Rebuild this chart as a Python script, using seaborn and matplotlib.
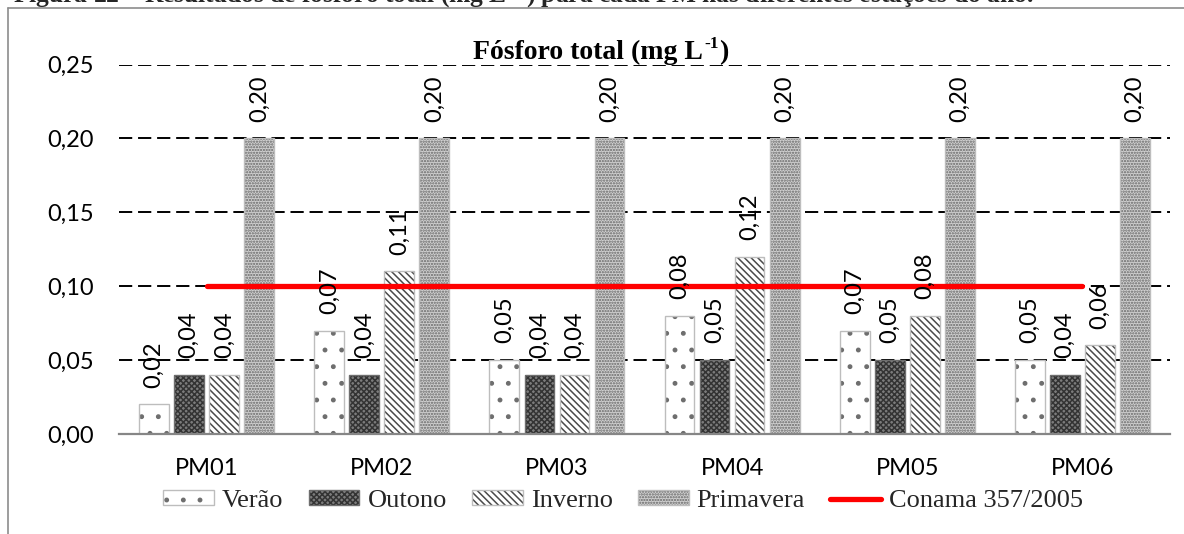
import numpy as np
import pandas as pd
import matplotlib
matplotlib.use("Agg")
import matplotlib.pyplot as plt
import seaborn as sns
from matplotlib.lines import Line2D
from matplotlib.patches import Rectangle, Patch
from matplotlib.legend_handler import HandlerTuple

# ---- data -------------------------------------------------------------
points = ["PM01", "PM02", "PM03", "PM04", "PM05", "PM06"]
seasons = ["Verão", "Outono", "Inverno", "Primavera"]
verao = [0.02, 0.07, 0.05, 0.08, 0.07, 0.05]
outono = [0.04, 0.04, 0.04, 0.05, 0.05, 0.04]
inverno = [0.04, 0.11, 0.04, 0.12, 0.08, 0.06]
primavera = [0.20, 0.20, 0.20, 0.20, 0.20, 0.20]
conama = [0.10, 0.10, 0.10, 0.10, 0.10, 0.10]
conama_label = "Conama 357/2005"
yticks = [0.00, 0.05, 0.10, 0.15, 0.20, 0.25]
ytick_labels = ["0,00", "0,05", "0,10", "0,15", "0,20", "0,25"]
title_main = "Fósforo total (mg L"
title_sup = "-1"
title_end = ")"
caption = r"Figura 22 – Resultados de fósforo total (mg L$^{\mathbf{-1}}$) para cada PM nas diferentes estações do ano."

series = {"Verão": verao, "Outono": outono, "Inverno": inverno, "Primavera": primavera}
df = pd.DataFrame(
    [(p, s, v) for s in seasons for p, v in zip(points, series[s])],
    columns=["ponto", "estacao", "valor"],
)

# ---- fill styles per season ------------------------------------------
styles = {
    "Verão": dict(face="#ffffff", hatch=".", hcol="#6e6e6e", edge="#bdbdbd"),
    "Outono": dict(face="#7c7c7c", hatch="xxxxxx", hcol="#333333", edge="#6e6e6e"),
    "Inverno": dict(face="#ffffff", hatch="\\\\\\\\\\", hcol="#4a4a4a", edge="#bdbdbd"),
    "Primavera": dict(face="#d0d0d0", hatch="......", hcol="#666666", edge="#bdbdbd"),
}

sns.set_theme(style="white")
plt.rcParams["font.family"] = ["Lato", "DejaVu Sans"]
plt.rcParams["mathtext.fontset"] = "custom"
plt.rcParams["mathtext.rm"] = "Liberation Serif"
plt.rcParams["mathtext.bf"] = "Liberation Serif:bold"
plt.rcParams["hatch.linewidth"] = 1.1

W, H = 1184, 534
fig = plt.figure(figsize=(W / 100, H / 100), dpi=100)
ax = fig.add_axes([119 / W, 1 - 434 / H, (1170 - 119) / W, (434 - 64.5) / H])

sns.barplot(
    data=df, x="ponto", y="valor", hue="estacao", hue_order=seasons,
    order=points, width=0.8, gap=0.15, errorbar=None, legend=False,
    palette=["#ffffff"] * 4, ax=ax, zorder=3,
)

for cont, season in zip(ax.containers, seasons):
    st = styles[season]
    for bar in cont:
        bar.set_facecolor(st["face"])
        bar.set_edgecolor(st["hcol"])
        bar.set_hatch(st["hatch"])
        bar.set_linewidth(0)
        ax.add_patch(Rectangle(bar.get_xy(), bar.get_width(), bar.get_height(),
                               fill=False, edgecolor=st["edge"], linewidth=1.0,
                               zorder=3.5))
    labels = [f"{v:.2f}".replace(".", ",") for v in series[season]]
    ax.bar_label(cont, labels=labels, rotation=90, padding=12,
                 fontsize=17, color="#000000", zorder=5)

# reference limit line
sns.lineplot(x=points, y=conama, color="#ff0000", linewidth=3.8, ax=ax,
             sort=False, zorder=4, solid_capstyle="round")

# ---- axes cosmetics --------------------------------------------------
ax.set_ylim(0, 0.25)
ax.set_xlim(-0.5, len(points) - 0.5)
ax.set_yticks(yticks)
ax.set_yticklabels(ytick_labels)
ax.tick_params(axis="y", length=0, pad=18, labelsize=17, labelcolor="#000000")
ax.tick_params(axis="x", length=0, pad=17, labelsize=17, labelcolor="#000000")
ax.set_xlabel("")
ax.set_ylabel("")
ax.yaxis.grid(True, color="#000000", linewidth=1.4, linestyle=(0, (6.8, 3.0)), zorder=1)
ax.xaxis.grid(False)
ax.set_axisbelow(True)
for side in ["left", "right", "top"]:
    ax.spines[side].set_visible(False)
ax.spines["bottom"].set_color("#868686")
ax.spines["bottom"].set_linewidth(1.6)
ax.spines["bottom"].set_zorder(6)

# ---- chart title with superscript unit --------------------------------
tprops = dict(family="Liberation Serif", fontweight="bold", color="#000000",
              va="baseline", ha="left")
base_y = 59  # baseline, pixels from top
t1 = fig.text(0, 1 - base_y / H, title_main, fontsize=20, **tprops)
t2 = fig.text(0, 1 - (base_y - 11) / H, title_sup, fontsize=12.5, **tprops)
t3 = fig.text(0, 1 - base_y / H, title_end, fontsize=20, **tprops)
fig.canvas.draw()
r = fig.canvas.get_renderer()
w1 = t1.get_window_extent(r).width
w2 = t2.get_window_extent(r).width
w3 = t3.get_window_extent(r).width
total = w1 + 1 + w2 + 1 + w3
x0 = 601 - total / 2
t1.set_x(x0 / W)
t2.set_x((x0 + w1 + 1) / W)
t3.set_x((x0 + w1 + 1 + w2 + 1) / W)

# ---- legend ----------------------------------------------------------
handles = []
for s in seasons:
    st = styles[s]
    fill = Patch(facecolor=st["face"], edgecolor=st["hcol"], hatch=st["hatch"], linewidth=0)
    outline = Patch(fill=False, edgecolor=st["edge"], linewidth=1.0)
    handles.append((fill, outline))
handles.append(Line2D([], [], color="#ff0000", linewidth=3.8, solid_capstyle="round"))
fig.legend(handles, seasons + [conama_label], loc="center", ncol=5,
           bbox_to_anchor=(623 / W, 1 - 501 / H), frameon=False,
           prop={"family": "Liberation Serif", "size": 19},
           handler_map={tuple: HandlerTuple(ndivide=1, pad=0)},
           handlelength=1.93, handleheight=0.53, handletextpad=0.3,
           columnspacing=0.95, borderaxespad=0, borderpad=0)

# ---- page frame and caption -----------------------------------------
fig.add_artist(Line2D([8 / W, 1], [1 - 8 / H, 1 - 8 / H],
                      transform=fig.transFigure, color="#8c8c8c", linewidth=1.2))
fig.add_artist(Line2D([8 / W, 8 / W], [0, 1 - 8 / H],
                      transform=fig.transFigure, color="#8c8c8c", linewidth=1.2))
fig.text(1033 / W, 1 - 2 / H, caption, ha="right", va="baseline",
         fontsize=18.4, fontweight="bold", family="Liberation Serif")

fig.savefig("out.png", dpi=100, facecolor="white")
